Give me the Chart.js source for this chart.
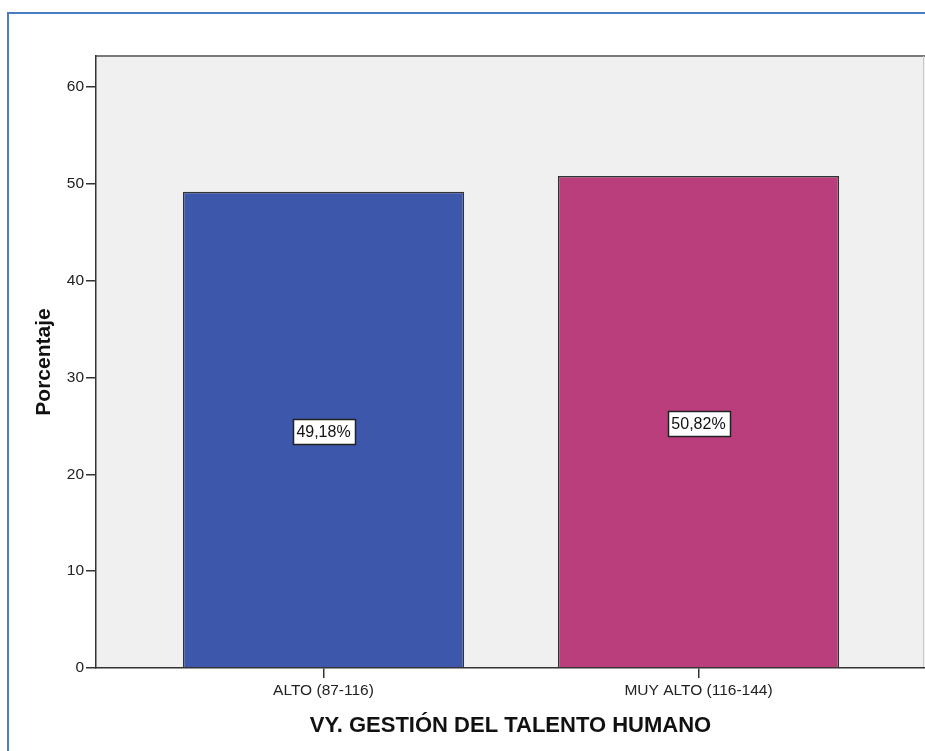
<!DOCTYPE html>
<html>
<head>
<meta charset="utf-8">
<script src="https://cdn.jsdelivr.net/npm/chart.js@4/dist/chart.umd.min.js"></script>
<style>
  html, body { margin: 0; padding: 0; background: #fff; overflow: hidden; }
  #wrap { position: relative; width: 925px; height: 751px; }
</style>
</head>
<body>
<div id="wrap"><canvas id="myChart" width="925" height="751"></canvas></div>
<script>
const categories = ['ALTO (87-116)', 'MUY ALTO (116-144)']
const percentages = [49.18, 50.82]
const barColors = ['#3D57AB', '#BA3E7C']
const yTicks = [0, 10, 20, 30, 40, 50, 60]

const FONT = '"Liberation Sans", Arial, sans-serif'

// plot background, frame around the picture, and the value boxes
const decorations = {
    id: 'decorations',
    beforeDraw: function(chart) {
        const ctx = chart.ctx
        const a = chart.chartArea
        ctx.save()
        ctx.fillStyle = '#F0F0F0'
        ctx.fillRect(a.left, a.top, a.right - a.left, a.bottom - a.top)
        ctx.strokeStyle = '#7a7a7a'
        ctx.lineWidth = 2
        ctx.beginPath()
        ctx.moveTo(a.left, a.top)
        ctx.lineTo(a.right, a.top)
        ctx.stroke()
        ctx.strokeStyle = '#c8c8c8'
        ctx.lineWidth = 1
        ctx.beginPath()
        ctx.moveTo(a.right - 1.5, a.top)
        ctx.lineTo(a.right - 1.5, a.bottom)
        ctx.stroke()
        // outer blue frame
        ctx.strokeStyle = '#4A7EC2'
        ctx.lineWidth = 2
        ctx.beginPath()
        ctx.moveTo(8, chart.height)
        ctx.lineTo(8, 13)
        ctx.lineTo(chart.width, 13)
        ctx.stroke()
        ctx.restore()
    },
    afterDatasetsDraw: function(chart) {
        const ctx = chart.ctx
        const meta = chart.getDatasetMeta(0)
        ctx.save()
        ctx.font = '16px ' + FONT
        ctx.textAlign = 'center'
        ctx.textBaseline = 'middle'
        meta.data.forEach(function(bar, i) {
            const text = percentages[i].toFixed(2).replace('.', ',') + '%'
            const w = Math.round(ctx.measureText(text).width + 8)
            const h = 25
            const x0 = Math.round(bar.x - w / 2) + 0.5
            const y0 = Math.round((bar.y + bar.base) / 2 + 2 - h / 2) + 0.5
            ctx.fillStyle = '#ffffff'
            ctx.fillRect(x0, y0, w, h)
            ctx.strokeStyle = '#222'
            ctx.lineWidth = 1.5
            ctx.strokeRect(x0, y0, w, h)
            ctx.fillStyle = '#111'
            ctx.fillText(text, bar.x, y0 + h / 2 + 1)
        })
        ctx.restore()
    }
}

const ctx = document.getElementById('myChart').getContext('2d')

new Chart(ctx, {
    type: 'bar',
    data: {
        datasets: [{
            data: percentages.map(function(v, i) { return { x: i, y: v } }),
            backgroundColor: barColors,
            borderColor: '#333333',
            borderWidth: 1.5,
            barPercentage: 1,
            categoryPercentage: 0.75
        }]
    },
    options: {
        responsive: false,
        animation: false,
        layout: {
            padding: { left: 0, top: 56, right: 0, bottom: 0 }
        },
        scales: {
            x: {
                type: 'linear',
                offset: false,
                min: -0.6067,
                max: 1.604,
                afterBuildTicks: function(scale) {
                    scale.ticks = categories.map(function(c, i) { return { value: i } })
                },
                afterFit: function(scale) {
                    scale.height = 83
                },
                ticks: {
                    autoSkip: false,
                    maxRotation: 0,
                    padding: 3,
                    color: '#222',
                    font: { family: FONT, size: 15.5 },
                    callback: function(value) {
                        return categories[value]
                    }
                },
                grid: {
                    offset: false,
                    drawOnChartArea: false,
                    drawTicks: true,
                    tickLength: 10,
                    color: '#333',
                    lineWidth: 1.5
                },
                border: { display: true, color: '#333', width: 1.5 },
                title: {
                    display: true,
                    text: 'VY. GESTIÓN DEL TALENTO HUMANO',
                    color: '#111',
                    font: { family: FONT, size: 22, weight: 'bold' },
                    padding: { top: 0, bottom: 12 }
                }
            },
            y: {
                min: 0,
                max: 63.2,
                afterBuildTicks: function(scale) {
                    scale.ticks = yTicks.map(function(v) { return { value: v } })
                },
                afterFit: function(scale) {
                    scale.width = 96
                },
                ticks: {
                    padding: 2,
                    color: '#222',
                    font: { family: FONT, size: 15.5 }
                },
                grid: {
                    drawOnChartArea: false,
                    drawTicks: true,
                    tickLength: 10,
                    color: '#333',
                    lineWidth: 1.5
                },
                border: { display: true, color: '#333', width: 1.5 },
                title: {
                    display: true,
                    text: 'Porcentaje',
                    color: '#111',
                    font: { family: FONT, size: 21, weight: 'bold' },
                    padding: { top: 32, bottom: 32 }
                }
            }
        },
        plugins: {
            legend: { display: false },
            tooltip: { enabled: false }
        }
    },
    plugins: [decorations]
})
</script>
</body>
</html>
